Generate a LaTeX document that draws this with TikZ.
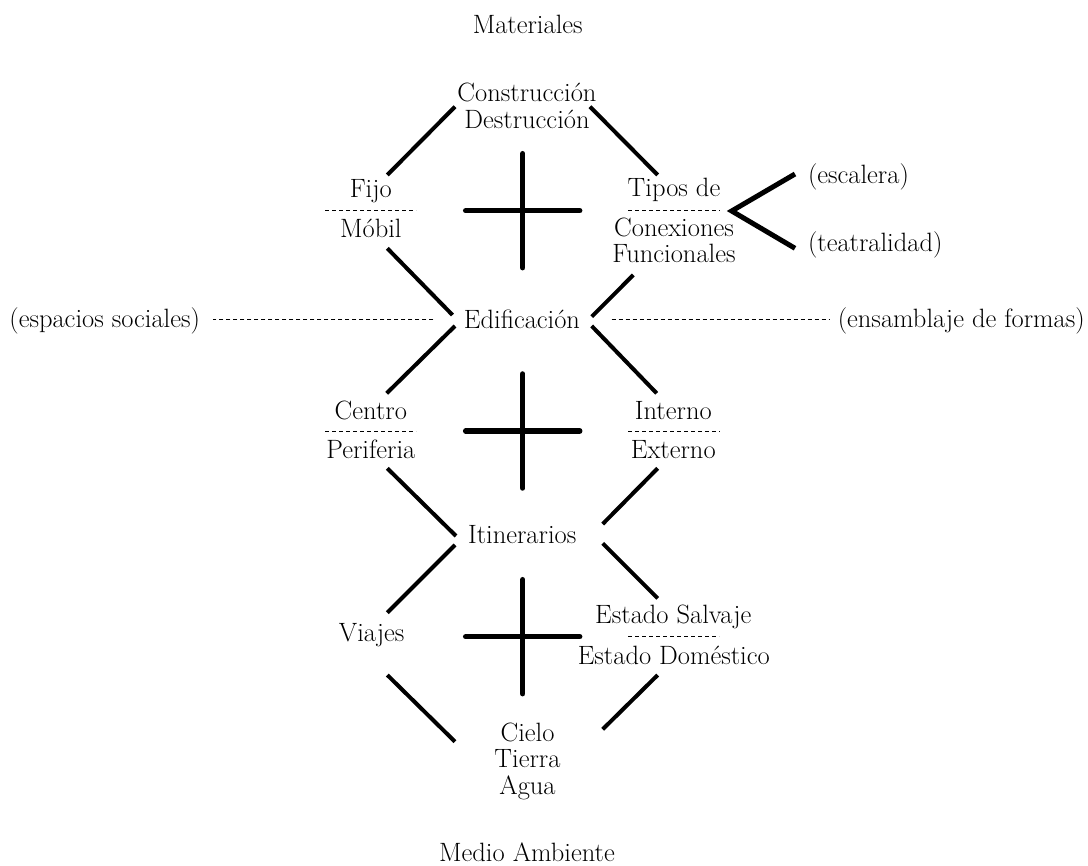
\documentclass[tikz,border=0pt]{standalone}
\usetikzlibrary{calc}
\begin{document}
\begin{tikzpicture}[x=1pt,y=-1pt,
  lbl/.style={anchor=base,inner sep=0pt,outer sep=0pt,align=center,
    font=\fontsize{26.5}{26.4}\selectfont},
  conn/.style={line width=4pt},
  bar/.style={line width=5.5pt,line cap=round},
  sep/.style={line width=0.9pt,dash pattern=on 4pt off 3pt},
  fork/.style={line width=5pt,line join=miter}]
\useasboundingbox (0,0) rectangle (1088,866);
% text nodes (base anchor = baseline of the last line)
\node[lbl] (mat) at (527.7,33.3) {Materiales};
\node[lbl] (cd) at (527,128.3) {Construcción\\Destrucción};
\node[lbl] (fijo) at (370.8,198) {Fijo};
\node[lbl] (mobil) at (370.8,238) {Móbil};
\node[lbl] (tipos) at (674,197) {Tipos de};
\node[lbl] (conex) at (674,262.7) {Conexiones\\Funcionales};
\node[lbl,anchor=base west] (esc) at (808,183.3) {(escalera)};
\node[lbl,anchor=base west] (teat) at (808,251.7) {(teatralidad)};
\node[lbl] (edif) at (522,328.3) {Edificación};
\node[lbl,anchor=base east] (esp) at (200,328) {(espacios sociales)};
\node[lbl,anchor=base west] (ens) at (837.8,328) {(ensamblaje de formas)};
\node[lbl] (centro) at (370.8,420) {Centro};
\node[lbl] (perif) at (370.8,459) {Periferia};
\node[lbl] (interno) at (673.3,420) {Interno};
\node[lbl] (externo) at (673.3,459) {Externo};
\node[lbl] (itin) at (522.2,544) {Itinerarios};
\node[lbl] (viajes) at (371.7,641.7) {Viajes};
\node[lbl] (salv) at (673.3,623.3) {Estado Salvaje};
\node[lbl] (dom) at (673.8,664) {Estado Doméstico};
\node[lbl] (cta) at (527.5,794) {Cielo\\Tierra\\Agua};
\node[lbl] (medio) at (527,861.7) {Medio Ambiente};
% connector end points
\coordinate (a1) at (387.3,175);   \coordinate (a2) at (455,106.7);
\coordinate (b1) at (590,106.7);   \coordinate (b2) at (657.7,175);
\coordinate (c1) at (387.3,248.3); \coordinate (c2) at (452.5,315);
\coordinate (d1) at (633.3,275);   \coordinate (d2) at (591.7,316.7);
\coordinate (e1) at (455,326);     \coordinate (e2) at (386.7,393.3);
\coordinate (f1) at (591.7,326);   \coordinate (f2) at (656.7,393.3);
\coordinate (g1) at (387.3,468.3); \coordinate (g2) at (456,536);
\coordinate (h1) at (657.7,468.3); \coordinate (h2) at (602.7,524);
\coordinate (i1) at (455,545);     \coordinate (i2) at (387.3,612.7);
\coordinate (j1) at (602.7,543.3); \coordinate (j2) at (657.7,598.3);
\coordinate (k1) at (387.3,675);   \coordinate (k2) at (455,741.7);
\coordinate (l1) at (657.7,675);   \coordinate (l2) at (602.7,729.3);
\foreach \p in {a,b,c,d,e,f,g,h,i,j,k,l}{\draw[conn] (\p1) -- (\p2);}
% crosses
\foreach \n/\cy in {x1/210.7,x2/431,x3/636.7}{
  \coordinate (\n) at (522.7,\cy);
  \draw[bar] ($(\n)+(-57,0)$) -- ($(\n)+(57,0)$);
  \draw[bar] ($(\n)+(0,-57)$) -- ($(\n)+(0,57)$);
}
% separators
\coordinate (s1a) at (325,210.7); \coordinate (s1b) at (416,210.7);
\coordinate (s2a) at (628,210.7); \coordinate (s2b) at (720,210.7);
\coordinate (s3a) at (325,431);   \coordinate (s3b) at (416,431);
\coordinate (s4a) at (628,431);   \coordinate (s4b) at (720,431);
\coordinate (s5a) at (628.3,636.7); \coordinate (s5b) at (719.3,636.7);
\foreach \s in {s1,s2,s3,s4,s5}{\draw[sep] (\s a) -- (\s b);}
% long dashed lines
\coordinate (la) at (433.3,319.5);
\coordinate (ra) at (611.7,319.5);
\draw[sep] (la) -- (212.5,319.5);
\draw[sep] (ra) -- (829,319.5);
% fork
\coordinate (fv) at (731.7,211);
\coordinate (fu) at (795,174);
\coordinate (fd) at (795,248.3);
\draw[fork] (fu) -- (fv) -- (fd);
\end{tikzpicture}
\end{document}
